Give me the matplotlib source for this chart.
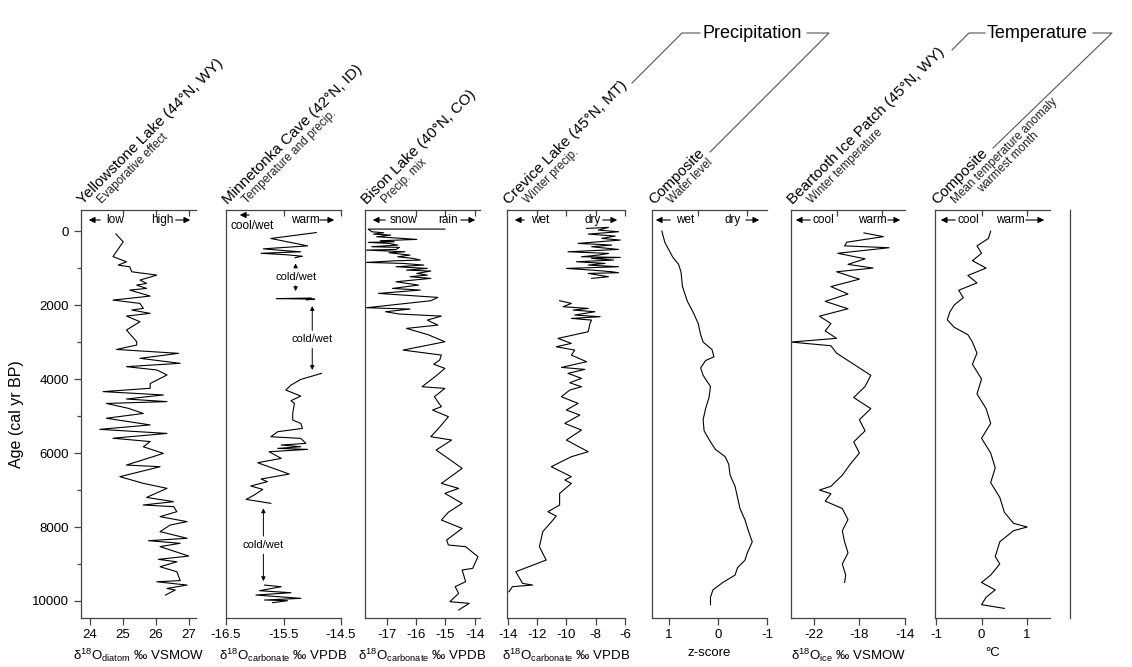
import numpy as np
import matplotlib.pyplot as plt
from matplotlib.lines import Line2D
from matplotlib.patches import FancyArrowPatch

plt.rcParams['font.family'] = ['Liberation Sans', 'DejaVu Sans']
plt.rcParams['mathtext.fontset'] = 'custom'
plt.rcParams['mathtext.rm'] = 'Liberation Sans'
plt.rcParams['mathtext.it'] = 'Liberation Sans:italic'

# ---------------- data (age in cal yr BP, proxy value) ----------------
yel_age = [80, 290, 690, 830, 920, 965, 1100, 1190, 1325, 1415, 1460, 1550, 1595, 1757, 1865,
           1955, 2090, 2135, 2225, 2297, 2450, 2675, 2990, 3080, 3200, 3305, 3440, 3575, 3665,
           3755, 3890, 4120, 4250, 4340, 4430, 4540, 4610, 4660, 4790, 4930, 5060, 5240, 5360,
           5470, 5600, 5690, 5830, 6010, 6325, 6370, 6640, 6820, 6955, 7200, 7315, 7405, 7450,
           7585, 7720, 7855, 7945, 8125, 8305, 8370, 8440, 8530, 8785, 8875, 8940, 9075, 9210,
           9450, 9480, 9570, 9660, 9705, 9840]
yel_val = [24.79, 25.01, 24.70, 25.11, 24.86, 25.21, 25.27, 26.03, 25.52, 25.72, 25.42, 25.72,
           25.21, 25.83, 24.70, 25.52, 25.62, 25.27, 25.83, 25.11, 25.52, 25.11, 25.42, 25.42,
           24.81, 26.69, 25.52, 26.74, 25.11, 26.03, 26.34, 25.83, 25.83, 24.40, 26.23, 25.11,
           26.34, 24.50, 25.16, 25.62, 24.50, 25.83, 24.30, 26.34, 24.70, 25.83, 25.62, 26.23,
           25.11, 26.13, 24.91, 25.62, 26.34, 25.72, 26.54, 25.62, 26.54, 26.64, 26.13, 26.95,
           26.44, 26.13, 26.95, 25.78, 26.74, 26.13, 27.00, 26.08, 26.64, 26.13, 26.64, 26.74,
           26.03, 26.95, 26.34, 26.59, 26.29]

# Minnetonka Cave has gaps (nan)
min_age = [40, 200, 400, 480, 520, 560, 600, 640, 680, 720, np.nan,
           1810, 1825, 1840, 1860, np.nan,
           3847, 4010, 4163, 4298, 4460, 4586, 4658, 4929, 5109, 5199, 5334, 5424, 5560,
           5604, 5740, 5784, 5830, 5875, 5902, 5965, 6145, 6262, 6568, 6703, 6775, 6892,
           6983, 7136, 7253, 7361, np.nan,
           9570, 9614, 9722, 9776, 9839, 9929, 9974, 9992, 10046]
min_val = [-14.93, -15.72, -15.08, -15.85, -15.55, -15.20, -15.89, -15.45, -15.17, -15.30, np.nan,
           -15.02, -15.62, -14.96, -15.10, np.nan,
           -14.84, -15.20, -15.37, -15.46, -15.20, -15.37, -15.31, -15.34, -15.34, -15.20,
           -15.17, -15.60, -15.72, -15.20, -15.11, -15.54, -15.20, -15.60, -15.08, -15.75,
           -15.54, -15.95, -15.40, -15.89, -15.78, -16.07, -15.86, -16.01, -16.15, -15.72, np.nan,
           -15.83, -15.54, -15.92, -15.37, -15.98, -15.20, -15.83, -15.43, -15.69]

bis_age = [-54, -54, 18, 45, 81, 108, 153, 180, 225, 261, 288, 306, 333, 378, 423, 441, 496,
           514, 559, 586, 649, 694, 739, 784, 802, 847, 874, 919, 964, 1009, 1054, 1081, 1144,
           1189, 1234, 1279, 1306, 1370, 1460, 1550, 1595, 1685, 1793, 1883, 2072, 2108, 2180,
           2243, 2298, 2406, 2541, 2631, 2800, 2991, 3100, 3217, 3352, 3487, 3600, 3712, 3900,
           4208, 4253, 4478, 4748, 4838, 5018, 5300, 5559, 5649, 5920, 6150, 6415, 6821, 6956,
           7091, 7361, 7600, 7812, 8037, 8352, 8487, 8532, 8803, 9118, 9163, 9478, 9613, 9794,
           10019, 10064, 10244]
bis_val = [-15.02, -17.64, -17.52, -17.11, -17.46, -16.87, -17.35, -16.81, -15.98, -17.23,
           -16.75, -17.64, -16.93, -16.63, -17.52, -16.57, -16.69, -17.70, -16.39, -16.93,
           -16.21, -16.63, -16.10, -15.86, -16.69, -17.70, -16.45, -15.74, -16.69, -15.62,
           -16.33, -15.50, -15.98, -15.62, -16.21, -15.50, -15.86, -16.69, -15.92, -16.81,
           -15.86, -17.29, -15.26, -15.50, -17.70, -16.21, -17.05, -16.57, -15.14, -15.62,
           -15.26, -16.33, -15.60, -15.02, -15.70, -16.45, -15.14, -15.20, -15.40, -15.02,
           -15.30, -15.80, -15.02, -15.38, -15.14, -15.44, -14.90, -15.20, -15.50, -14.79,
           -15.32, -14.90, -14.43, -15.14, -14.55, -15.02, -14.43, -14.90, -15.14, -14.43,
           -14.96, -14.90, -14.31, -13.89, -14.07, -14.43, -14.31, -14.67, -14.55, -14.85,
           -14.19, -14.55]

cre_age = [-72, -99, -27, 18, 81, 135, 198, 243, 333, 378, 423, 496, 559, 604, 649, 694, 712,
           739, 784, 829, 874, 919, 964, 1009, 1054, 1099, 1126, 1144, 1189, 1234, 1279, np.nan,
           1883, 1955, 2045, 2090, 2135, 2180, 2270, 2315, 2361, 2406, 2496, 2721, 2901, 3036,
           3127, 3217, 3352, 3532, 3685, 3739, 3847, 3982, 4100, 4208, 4298, 4478, 4658, 4838,
           4973, 5199, 5379, 5649, 5965, 6100, 6370, 6640, 6730, 6821, 7091, 7406, 7586, 7704,
           7812, 8127, 8532, 8893, 9208, 9524, 9569, 9613, 9749]
cre_val = [-8.62, -7.13, -7.82, -6.44, -8.51, -6.67, -7.59, -6.32, -9.20, -6.90, -8.28, -6.44,
           -9.89, -7.13, -7.82, -8.97, -6.32, -8.28, -6.78, -9.31, -7.36, -8.51, -6.44, -10.00,
           -8.28, -6.90, -6.44, -8.51, -7.82, -7.13, -8.28, np.nan,
           -10.46, -9.66, -10.23, -8.51, -9.54, -8.05, -9.43, -7.70, -9.66, -8.28, -8.39,
           -8.51, -10.57, -9.66, -10.69, -9.43, -9.66, -8.62, -10.34, -8.74, -9.89, -8.97,
           -9.77, -8.97, -9.77, -10.34, -9.20, -10.00, -9.08, -10.11, -8.97, -10.00, -8.51,
           -9.66, -11.03, -9.66, -10.11, -9.66, -10.46, -10.46, -11.26, -10.69, -10.92, -11.61,
           -11.84, -11.38, -13.45, -12.99, -12.30, -13.68, -13.91]

wl_age = [0, 300, 700, 900, 1100, 1500, 1900, 2200, 2500, 2800, 3000, 3200, 3400, 3500, 3700,
          3900, 4200, 4500, 4800, 5100, 5400, 5700, 5900, 6100, 6300, 6600, 6900, 7200, 7500,
          7800, 8100, 8400, 8700, 8900, 9100, 9300, 9500, 9700, 9900, 10100]
wl_z = [1.14, 1.08, 0.92, 0.80, 0.75, 0.72, 0.62, 0.50, 0.40, 0.35, 0.30, 0.12, 0.08, 0.25,
        0.35, 0.30, 0.15, 0.18, 0.25, 0.30, 0.28, 0.15, 0.05, -0.15, -0.22, -0.25, -0.35, -0.40,
        -0.45, -0.55, -0.62, -0.70, -0.60, -0.55, -0.40, -0.35, -0.10, 0.10, 0.15, 0.15]

bea_age = [50, 150, 300, 400, 450, 600, 750, 900, 1000, 1100, 1300, 1500, 1700, 1900, 2100,
           2300, 2500, 2700, 2900, 3000, 3100, 3300, 3500, 3700, 3900, 4200, 4500, 4800, 5100,
           5400, 5700, 6000, 6300, 6600, 6900, 7000, 7100, 7300, 7500, 7800, 8100, 8400, 8700,
           9000, 9300, 9500]
bea_val = [-17.6, -15.9, -19.1, -19.3, -15.4, -19.9, -17.5, -19.0, -16.8, -20.0, -18.0, -20.5,
           -19.0, -21.0, -19.0, -21.5, -20.5, -21.0, -20.0, -24.0, -20.5, -20.0, -19.0, -18.0,
           -17.0, -17.5, -18.5, -17.0, -18.0, -17.5, -18.5, -18.0, -18.8, -19.5, -20.5, -21.5,
           -20.5, -21.0, -19.5, -19.0, -19.5, -19.3, -19.0, -19.5, -19.2, -19.3]

tmp_age = [0, 200, 400, 600, 800, 1000, 1200, 1400, 1600, 1800, 2000, 2200, 2400, 2600, 2800,
           3000, 3300, 3600, 4000, 4400, 4800, 5200, 5600, 6000, 6400, 6800, 7200, 7600, 7900,
           8000, 8100, 8400, 8800, 9000, 9300, 9500, 9700, 9900, 10100, 10200]
tmp_val = [0.2, 0.15, -0.1, 0.0, -0.2, 0.1, -0.3, -0.1, -0.5, -0.4, -0.6, -0.7, -0.75, -0.6,
           -0.3, -0.2, -0.1, -0.2, 0.0, -0.1, 0.1, 0.2, 0.0, 0.2, 0.3, 0.2, 0.4, 0.5, 0.7, 1.0,
           0.7, 0.4, 0.3, 0.4, 0.2, 0.0, 0.3, 0.1, 0.0, 0.5]

titles = ['Yellowstone Lake (44°N, WY)', 'Minnetonka Cave (42°N, ID)', 'Bison Lake (40°N, CO)',
          'Crevice Lake (45°N, MT)', 'Composite', 'Beartooth Ice Patch (45°N, WY)', 'Composite']
subtitles = ['Evaporative effect', 'Temperature and precip.', 'Precip. mix', 'Winter precip.',
             'Water level', 'Winter temperature', 'Mean temperature anomaly']
subtitle2 = [None, None, None, None, None, None, 'warmest month']
xlabels = [r'$\mathrm{\delta^{18}O_{diatom}}$ ‰ VSMOW',
           r'$\mathrm{\delta^{18}O_{carbonate}}$ ‰ VPDB',
           r'$\mathrm{\delta^{18}O_{carbonate}}$ ‰ VPDB',
           r'$\mathrm{\delta^{18}O_{carbonate}}$ ‰ VPDB',
           'z-score',
           r'$\mathrm{\delta^{18}O_{ice}}$ ‰ VSMOW',
           '°C']
xticks = [[24, 25, 26, 27], [-16.5, -15.5, -14.5], [-17, -16, -15, -14], [-14, -12, -10, -8, -6],
          [1, 0, -1], [-22, -18, -14], [-1, 0, 1]]
xticklabels = [['24', '25', '26', '27'], ['-16.5', '-15.5', '-14.5'], ['-17', '-16', '-15', '-14'],
               ['-14', '-12', '-10', '-8', '-6'], ['1', '0', '-1'], ['-22', '-18', '-14'],
               ['-1', '0', '1']]
toptick = [[25, 26, 27], [-15.5, -14.5], [-16, -15, -14], [-12, -10, -8, -6], [0.4, -0.6],
           [-20, -16], [0, 1]]
xlims = [(23.73, 27.22), (-16.5, -14.5), (-17.75, -13.82), (-14.05, -6), (1.34, -1.0),
         (-24.0, -14.0), (-1.02, 1.5)]
left_words = ['low', 'cool/wet', 'snow', 'wet', 'wet', 'cool', 'cool']
right_words = ['high', 'warm', 'rain', 'dry', 'dry', 'warm', 'warm']

series = [(yel_val, yel_age), (min_val, min_age), (bis_val, bis_age), (cre_val, cre_age),
          (wl_z, wl_age), (bea_val, bea_age), (tmp_val, tmp_age)]

# ---------------- layout (pixels of a 1132 x 667 image) ----------------
W, H = 1132, 667
fig = plt.figure(figsize=(W / 100, H / 100), dpi=100)


def fx(x):
    return x / W


def fy(y):
    return 1 - y / H


def rot_shift(x, y, along, perp):
    # move a point along / across a 45 degree text baseline (pixel coords, y down)
    return x + 0.707 * (along + perp), y + 0.707 * (perp - along)


panel_px = [(81, 196), (226, 341), (365, 480), (507, 625), (652, 767), (791, 905), (935, 1050)]
top_px, bot_px = 210, 618
# arrow/word x-positions: left head, left tail, left word, right word, right tail, right head
arrow_px = [(86, 103, 115, 162, 173, 193), (237, 252, 252, 305, 317, 337),
            (370, 388, 403, 448, 458, 478), (512, 527, 540, 593, 600, 620),
            (653, 673, 685, 733, 743, 762), (793, 813, 823, 872, 885, 903),
            (938, 958, 968, 1010, 1023, 1047)]

spine_col = '#444444'
axes = []
for i, (x0, x1) in enumerate(panel_px):
    ax = fig.add_axes([fx(x0), fy(bot_px), (x1 - x0) / W, (bot_px - top_px) / H])
    axes.append(ax)
    vals, ages = series[i]
    ax.plot(vals, ages, color='black', lw=0.8)
    ax.set_xlim(*xlims[i])
    ax.set_ylim(10460, -570)
    ax.set_xticks(xticks[i])
    ax.set_xticklabels(xticklabels[i])
    ax.spines['right'].set_visible(False)
    for s in ['left', 'top', 'bottom']:
        ax.spines[s].set_color(spine_col)
        ax.spines[s].set_linewidth(0.9)
    ax.tick_params(axis='x', direction='out', length=5, width=0.9, color=spine_col,
                   labelsize=9.5, pad=3)
    ax.set_xlabel(xlabels[i], fontsize=9.5, labelpad=4)
    sec = ax.secondary_xaxis('top')
    sec.set_xticks(toptick[i])
    sec.set_xticklabels([])
    sec.tick_params(direction='in', length=4, width=0.9, color=spine_col)
    sec.spines['top'].set_visible(False)
    if i == 0:
        ax.set_yticks([0, 2000, 4000, 6000, 8000, 10000])
        ax.set_yticks([1000, 3000, 5000, 7000, 9000], minor=True)
        ax.tick_params(axis='y', which='major', direction='out', length=5, width=0.9,
                       color=spine_col, labelsize=9.5)
        ax.tick_params(axis='y', which='minor', direction='out', length=3, width=0.9,
                       color=spine_col)
        ax.set_ylabel('Age (cal yr BP)', fontsize=11.5, labelpad=6)
    else:
        ax.set_yticks([])

    # direction arrows under the top spine
    lh, lt, lw_, rw, rt, rh = arrow_px[i]
    ay = 220
    if i == 1:
        fig.text(fx(lw_), fy(226), left_words[i], ha='center', va='center', fontsize=8.5)
        yl = 215
    else:
        fig.text(fx(lw_), fy(ay), left_words[i], ha='center', va='center', fontsize=8.5)
        yl = ay
    fig.text(fx(rw), fy(ay), right_words[i], ha='center', va='center', fontsize=8.5)
    fig.patches.append(FancyArrowPatch(
        (fx(lt), fy(yl)), (fx(lh), fy(yl)), transform=fig.transFigure, arrowstyle='-|>',
        mutation_scale=9, lw=0.8, color='black'))
    fig.patches.append(FancyArrowPatch(
        (fx(rt), fy(ay)), (fx(rh), fy(ay)), transform=fig.transFigure, arrowstyle='-|>',
        mutation_scale=9, lw=0.8, color='black'))

    # rotated titles
    tx, ty = x0 + 2, 205
    fig.text(fx(tx), fy(ty), titles[i], rotation=45, rotation_mode='anchor', ha='left',
             va='baseline', fontsize=11)
    sx, sy = rot_shift(tx, ty, 14, 12)
    fig.text(fx(sx), fy(sy), subtitles[i], rotation=45, rotation_mode='anchor', ha='left',
             va='baseline', fontsize=8.5, color='#222222')
    if subtitle2[i]:
        sx2, sy2 = rot_shift(tx, ty, 40, 23)
        fig.text(fx(sx2), fy(sy2), subtitle2[i], rotation=45, rotation_mode='anchor',
                 ha='left', va='baseline', fontsize=8.5, color='#222222')

# cold/wet arrows in Minnetonka panel
axm = axes[1]
cold_wet = [(-15.29, 800, 1700, 1235), (-15.0, 1950, 3830, 2930), (-15.85, 7420, 9540, 8490)]
for xv, a0, a1, amid in cold_wet:
    axm.text(xv, amid, 'cold/wet', ha='center', va='center', fontsize=8,
             bbox=dict(facecolor='white', edgecolor='none', pad=0.5))
    axm.annotate('', xy=(xv, a0), xytext=(xv, amid - 170),
                 arrowprops=dict(arrowstyle='-|>', lw=0.7, color='black', mutation_scale=6))
    axm.annotate('', xy=(xv, a1), xytext=(xv, amid + 170),
                 arrowprops=dict(arrowstyle='-|>', lw=0.7, color='black', mutation_scale=6))

# lone vertical line at right
fig.add_artist(Line2D([fx(1070), fx(1070)], [fy(top_px), fy(bot_px)], color=spine_col, lw=0.9))

# group brackets
bk = '#555555'
fig.add_artist(Line2D([fx(632), fx(682), fx(700)], [fy(83), fy(33), fy(33)], color=bk, lw=0.8))
fig.text(fx(703), fy(33), 'Precipitation', ha='left', va='center', fontsize=13)
fig.add_artist(Line2D([fx(807), fx(829), fx(710)], [fy(33), fy(33), fy(152)], color=bk, lw=0.8))
fig.add_artist(Line2D([fx(952), fx(969), fx(985)], [fy(50), fy(33), fy(33)], color=bk, lw=0.8))
fig.text(fx(987), fy(33), 'Temperature', ha='left', va='center', fontsize=13)
fig.add_artist(Line2D([fx(1093), fx(1112), fx(993)], [fy(33), fy(33), fy(148)], color=bk, lw=0.8))

fig.savefig('out.png', dpi=100)
